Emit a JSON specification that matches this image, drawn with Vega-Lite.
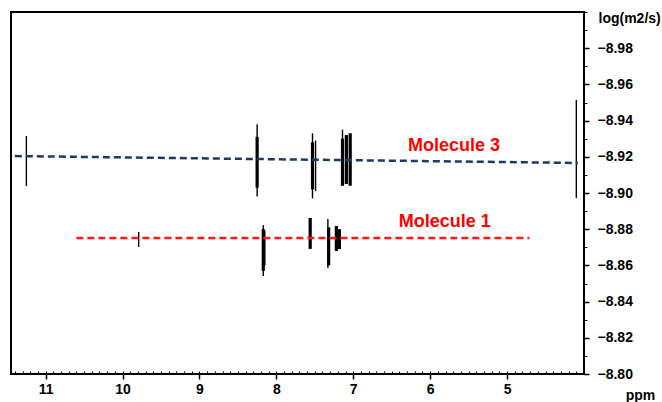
{
  "$schema": "https://vega.github.io/schema/vega-lite/v6.json",
  "width": 573,
  "height": 362,
  "autosize": {"type": "none"},
  "padding": {"left": 11, "top": 12, "right": 78, "bottom": 28},
  "background": "white",
  "config": {
    "view": {"stroke": "black", "strokeWidth": 2},
    "axis": {
      "labelFont": "Liberation Sans",
      "labelFontWeight": "bold",
      "labelFontSize": 14,
      "labelColor": "black",
      "titleFont": "Liberation Sans",
      "titleFontWeight": "bold",
      "titleFontSize": 14,
      "titleColor": "black",
      "tickColor": "black",
      "domain": false,
      "grid": false
    }
  },
  "datasets": {
    "peaks": [
      {"ppm": 11.25, "lo": -8.9315, "hi": -8.9039, "level": "thin"},
      {"ppm": 8.25, "lo": -8.938, "hi": -8.898, "level": "thin"},
      {"ppm": 8.25, "lo": -8.931, "hi": -8.903, "level": "thick"},
      {"ppm": 7.53, "lo": -8.933, "hi": -8.897, "level": "thin"},
      {"ppm": 7.53, "lo": -8.928, "hi": -8.902, "level": "thick"},
      {"ppm": 7.49, "lo": -8.929, "hi": -8.901, "level": "thin"},
      {"ppm": 7.14, "lo": -8.935, "hi": -8.904, "level": "thin"},
      {"ppm": 7.14, "lo": -8.930, "hi": -8.904, "level": "thick"},
      {"ppm": 7.09, "lo": -8.932, "hi": -8.905, "level": "thick"},
      {"ppm": 7.04, "lo": -8.933, "hi": -8.904, "level": "thick"},
      {"ppm": 4.10, "lo": -8.9514, "hi": -8.8972, "level": "thin"},
      {"ppm": 9.79, "lo": -8.8785, "hi": -8.8702, "level": "thin"},
      {"ppm": 8.17, "lo": -8.8823, "hi": -8.8541, "level": "thin"},
      {"ppm": 8.17, "lo": -8.880, "hi": -8.857, "level": "thick"},
      {"ppm": 8.15, "lo": -8.879, "hi": -8.860, "level": "thin"},
      {"ppm": 7.56, "lo": -8.8862, "hi": -8.8691, "level": "thick"},
      {"ppm": 7.33, "lo": -8.8856, "hi": -8.8586, "level": "thin"},
      {"ppm": 7.32, "lo": -8.881, "hi": -8.860, "level": "thick"},
      {"ppm": 7.22, "lo": -8.8818, "hi": -8.8680, "level": "thick"},
      {"ppm": 7.18, "lo": -8.880, "hi": -8.869, "level": "thick"}
    ],
    "fits": [
      {"molecule": "Molecule 3", "ppm": 11.40, "D": -8.9204},
      {"molecule": "Molecule 3", "ppm": 4.08, "D": -8.9166},
      {"molecule": "Molecule 1", "ppm": 10.60, "D": -8.8751},
      {"molecule": "Molecule 1", "ppm": 4.71, "D": -8.8751}
    ],
    "labels": [
      {"molecule": "Molecule 3", "ppm": 5.69, "D": -8.926},
      {"molecule": "Molecule 1", "ppm": 5.81, "D": -8.884}
    ]
  },
  "resolve": {"axis": {"x": "independent", "y": "independent"}},
  "layer": [
    {
      "data": {"name": "peaks"},
      "mark": {"type": "rule", "color": "black"},
      "encoding": {
        "x": {
          "field": "ppm", "type": "quantitative",
          "scale": {"domain": [4.0, 11.45], "reverse": true, "nice": false, "zero": false},
          "axis": {
            "orient": "bottom",
            "values": [5, 6, 7, 8, 9, 10, 11],
            "format": "d",
            "tickSize": 5,
            "tickWidth": 1.5,
            "labelPadding": 3,
            "title": "ppm",
            "titleAngle": 0,
            "titleX": 629,
            "titleY": 21,
            "titleAlign": "center",
            "titleBaseline": "middle"
          }
        },
        "y": {
          "field": "lo", "type": "quantitative",
          "scale": {"domain": [-9.0, -8.8], "reverse": true, "nice": false, "zero": false},
          "axis": {
            "orient": "right",
            "values": [-8.98, -8.96, -8.94, -8.92, -8.9, -8.88, -8.86, -8.84, -8.82, -8.8],
            "format": ".2f",
            "tickSize": 5,
            "tickWidth": 1.5,
            "labelPadding": 8,
            "title": "log(m2/s)",
            "titleAngle": 0,
            "titleX": 14,
            "titleY": 6,
            "titleAlign": "left",
            "titleBaseline": "middle"
          }
        },
        "y2": {"field": "hi"},
        "strokeWidth": {
          "field": "level", "type": "nominal",
          "scale": {"domain": ["thin", "thick"], "range": [1.4, 3.2]},
          "legend": null
        }
      }
    },
    {
      "data": {"name": "fits"},
      "mark": {"type": "line", "strokeDash": [7, 4], "strokeWidth": 2.5},
      "encoding": {
        "x": {"field": "ppm", "type": "quantitative",
          "axis": {"orient": "bottom", "tickCount": 75, "tickSize": -3, "tickWidth": 1, "labels": false, "title": null}},
        "y": {"field": "D", "type": "quantitative",
          "axis": {"orient": "right", "tickCount": 20, "tickSize": 3, "tickWidth": 1, "labels": false, "title": null}},
        "detail": {"field": "molecule"},
        "color": {
          "field": "molecule", "type": "nominal",
          "scale": {"domain": ["Molecule 3", "Molecule 1"], "range": ["#1f3864", "#ff1a1a"]},
          "legend": null
        }
      }
    },
    {
      "data": {"name": "labels"},
      "mark": {"type": "text", "font": "Liberation Sans", "fontWeight": "bold", "fontSize": 18, "color": "#ff0000", "align": "center", "baseline": "middle"},
      "encoding": {
        "x": {"field": "ppm", "type": "quantitative", "axis": null},
        "y": {"field": "D", "type": "quantitative", "axis": null},
        "text": {"field": "molecule"}
      }
    }
  ]
}
